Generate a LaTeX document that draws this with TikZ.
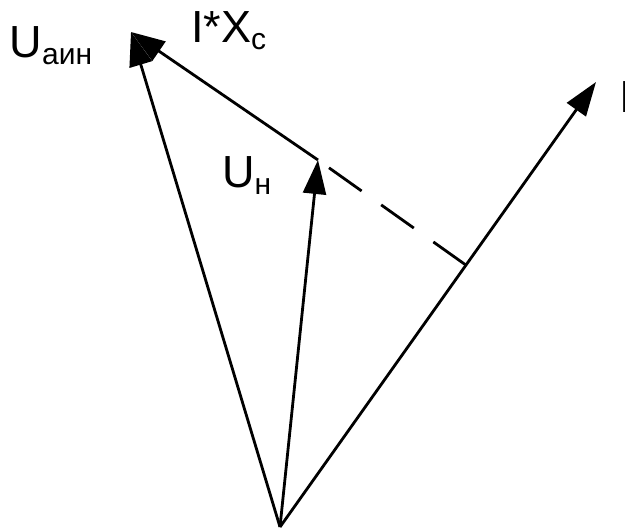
\documentclass[tikz,border=0pt]{standalone}
\usepackage{fontspec}
\setmainfont{Liberation Sans}
\usetikzlibrary{arrows.meta,calc}
\tikzset{
  vec/.style={line width=2.8pt,-{Triangle[length=34pt,width=23pt]}},
  proj/.style={line width=2.8pt,dash pattern=on 40pt off 24pt},
  lbl/.style={inner sep=0pt,anchor=base west,font=\fontsize{45}{45}\selectfont},
}
\newcommand{\sbs}[1]{\raisebox{-7pt}{\fontsize{30}{30}\selectfont #1}}
\begin{document}
\begin{tikzpicture}[x=1pt,y=-1pt]
  \useasboundingbox (0,0) rectangle (625,529);
  \coordinate (O) at (280,527);
  \coordinate (Ua) at (131,32);
  \coordinate (Un) at (318,160);
  \coordinate (I) at (596,82);
  \coordinate (F) at ($(O)!(Un)!(I)$);
  \draw[vec] (O) -- (Ua);
  \draw[vec] (O) -- (Un);
  \draw[vec] (O) -- (I);
  \draw[vec] (Un) -- (Ua);
  \draw[proj] (F) -- (Un);
  \node[lbl] (lUa) at (9.5,58) {U\sbs{аин}};
  \node[lbl] (lIX) at (191,43) {I*X\sbs{c}};
  \node[lbl] (lUn) at (222,188) {U\sbs{н}};
  \node[lbl] (lI) at (619,113) {I};
\end{tikzpicture}
\end{document}
